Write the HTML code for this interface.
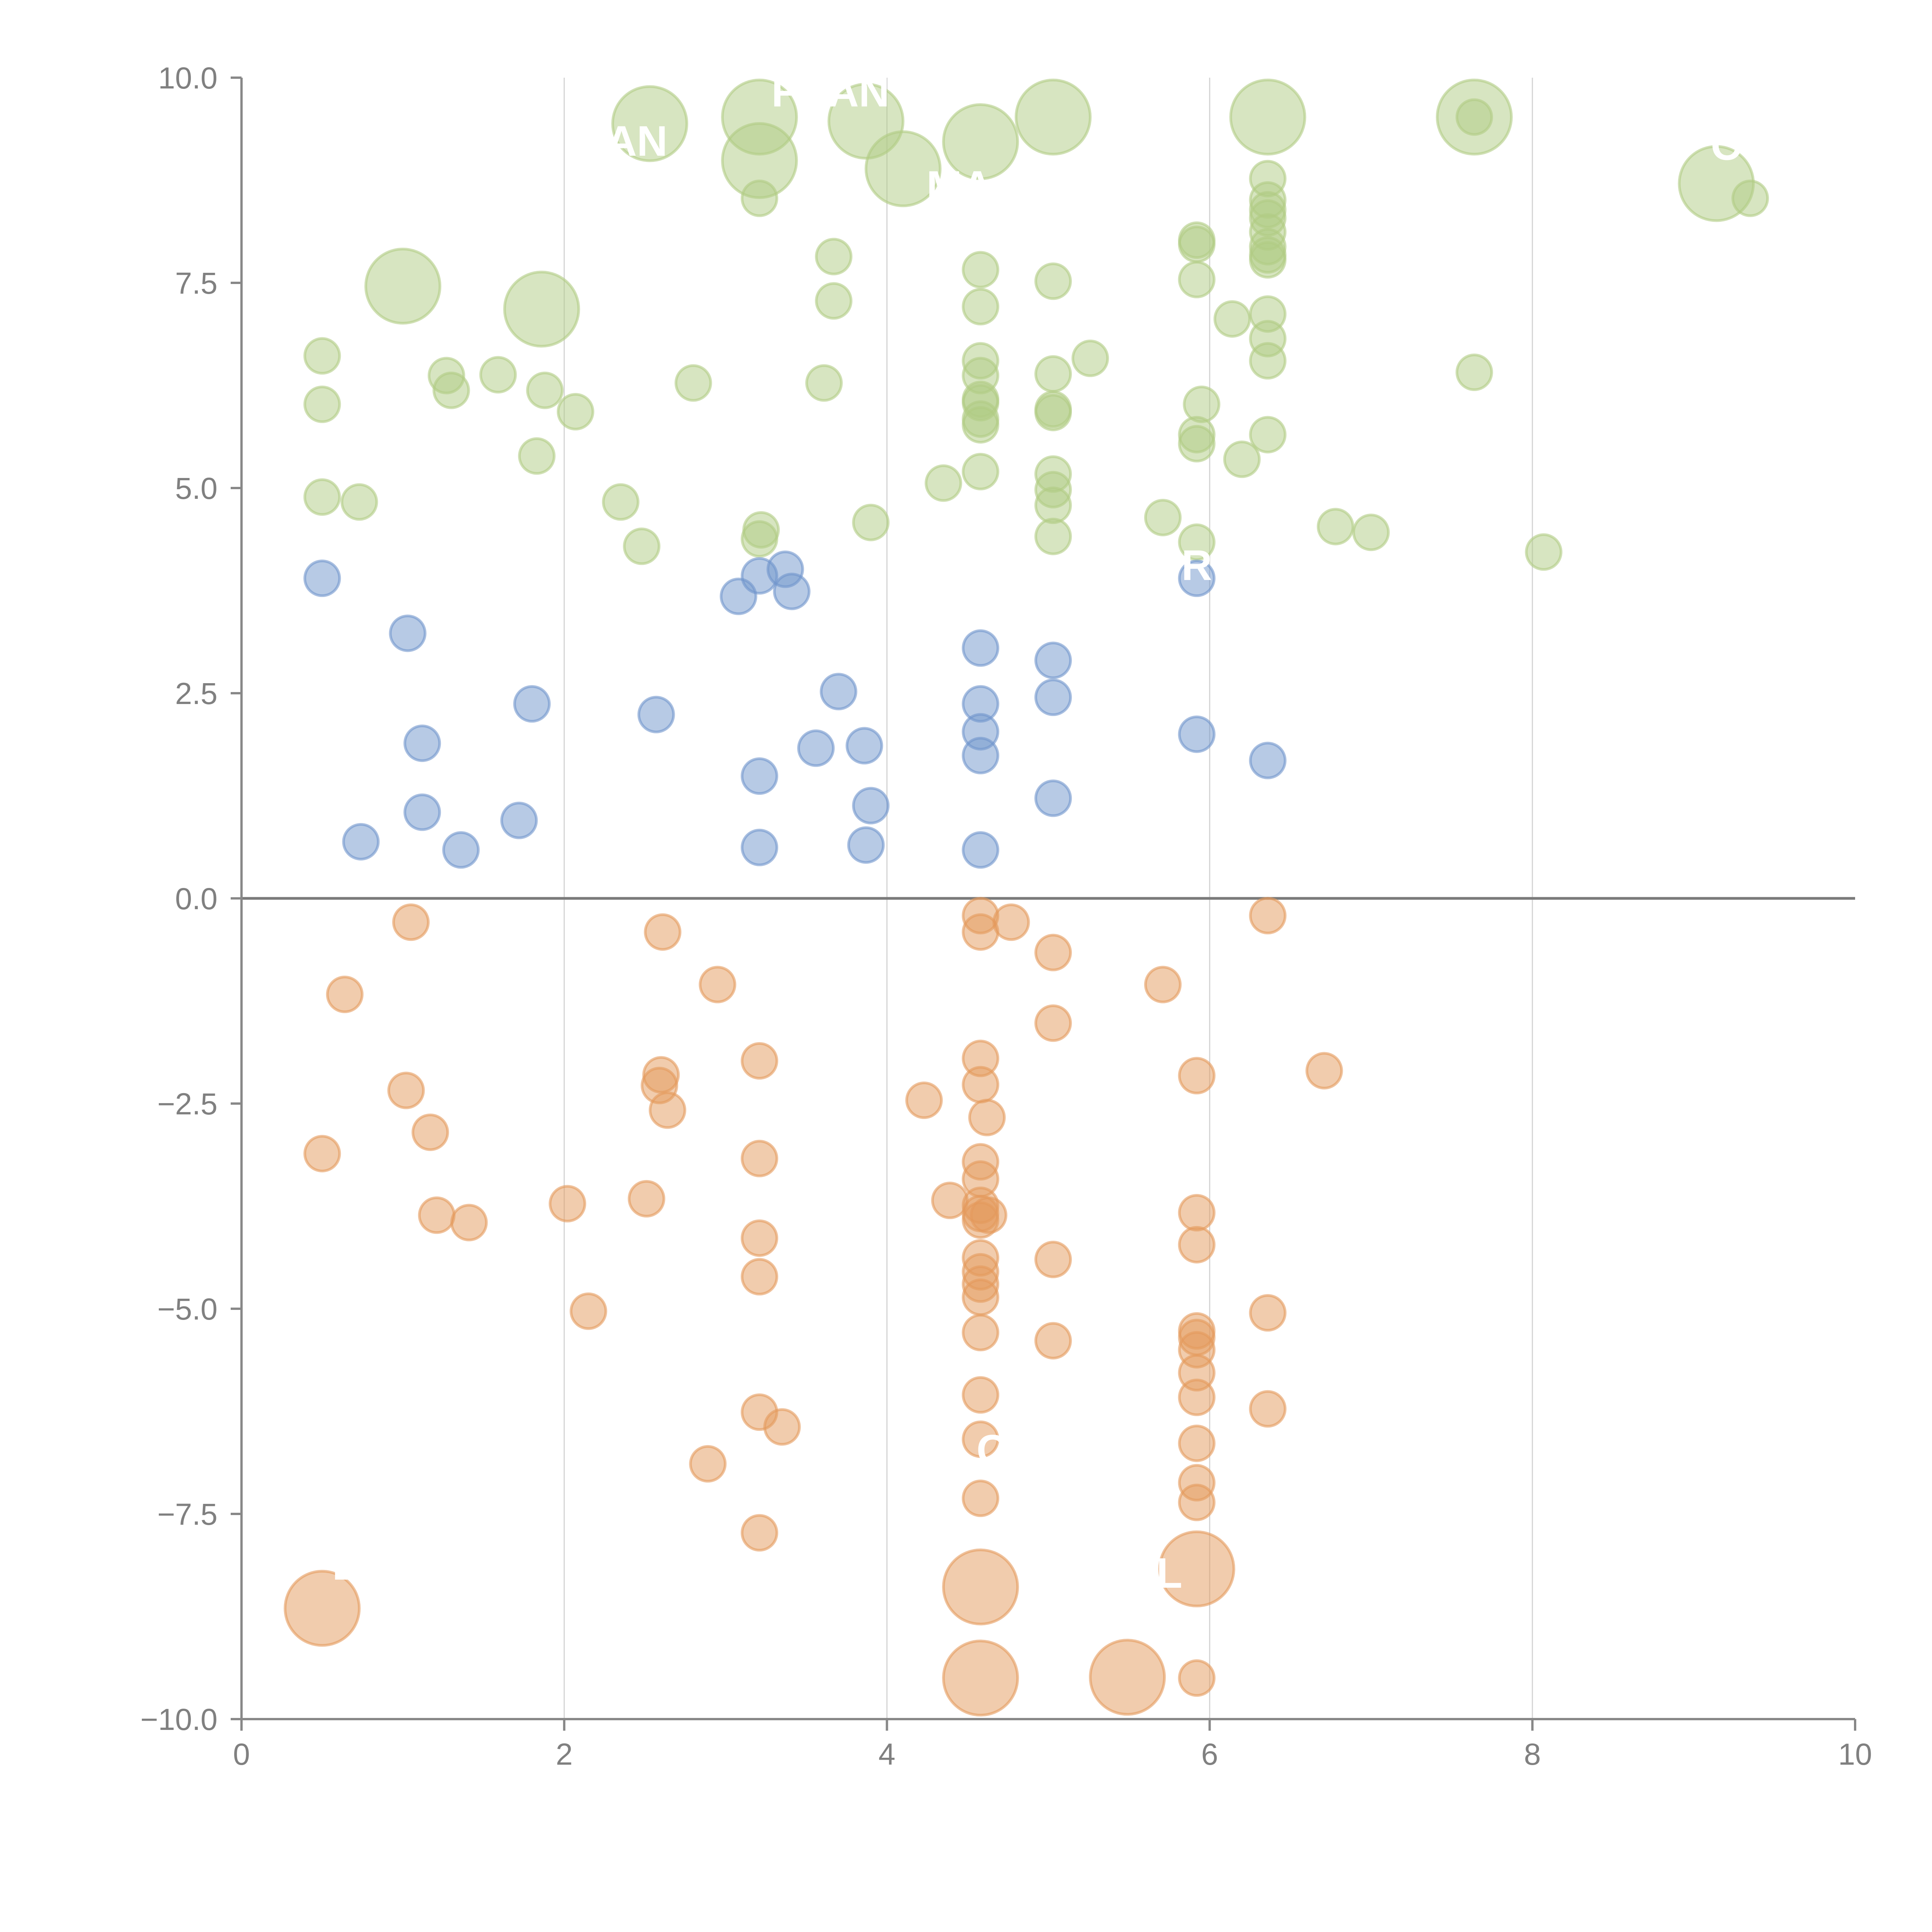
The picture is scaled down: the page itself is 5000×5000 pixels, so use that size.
<!DOCTYPE html>
<html><head><meta charset="utf-8"><style>
html,body{margin:0;padding:0;background:#fff;}
svg{display:block;font-family:"Liberation Sans",sans-serif;}
</style></head><body>
<svg id="chart" width="5000" height="5000" viewBox="0 0 5000 5000" xmlns="http://www.w3.org/2000/svg">
<rect width="5000" height="5000" fill="#fff"/>
<g id="grid"></g>
<g id="zero"></g>
<g id="axes"></g>
<g id="marks"></g>
<g id="labels"></g>
</svg>
<script>
const xTicks=[0,2,4,6,8,10];
const yTicks=[-10,-7.5,-5,-2.5,0,2.5,5,7.5,10];
const yTickLabels=["\u221210.0","\u22127.5","\u22125.0","\u22122.5","0.0","2.5","5.0","7.5","10.0"];
const xTickLabels=["0","2","4","6","8","10"];

const greenX=[2.53,3.21,3.21,3.87,4.10,4.58,5.03,6.36,7.64,9.14,1.0,1.86,
7.64,9.35,3.21,6.36,6.36,6.36,6.36,6.36,6.36,6.36,6.36,5.92,5.92,3.67,4.58,5.03,5.92,3.67,4.58,6.14,6.36,6.36,5.26,6.36,0.5,4.58,7.64,1.59,1.27,5.03,4.58,2.80,3.61,1.30,1.88,0.5,5.95,2.07,4.58,4.58,5.03,5.03,4.58,4.58,5.92,5.92,6.36,6.20,1.83,4.58,4.35,5.03,5.03,0.5,0.73,2.35,5.03,5.71,3.90,3.22,3.21,6.78,7.0,5.03,2.48,5.92,8.07];
const greenY=[9.44,9.52,8.99,9.47,8.89,9.22,9.52,9.52,9.52,8.71,7.46,7.18,
9.52,8.53,8.53,8.77,8.51,8.39,8.29,8.12,7.94,7.84,7.78,8.02,7.97,7.82,7.66,7.52,7.54,7.28,7.21,7.06,7.12,6.82,6.58,6.55,6.61,6.55,6.41,6.38,6.37,6.39,6.37,6.28,6.28,6.19,6.19,6.02,6.02,5.93,6.08,6.04,5.96,5.92,5.84,5.77,5.65,5.54,5.65,5.35,5.39,5.20,5.06,5.17,4.98,4.89,4.83,4.83,4.79,4.64,4.58,4.49,4.38,4.53,4.46,4.41,4.29,4.34,4.22];
const greenS=[2,2,2,2,2,2,2,2,2,2,2,2,
1,1,1,1,1,1,1,1,1,1,1,1,1,1,1,1,1,1,1,1,1,1,1,1,1,1,1,1,1,1,1,1,1,1,1,1,1,1,1,1,1,1,1,1,1,1,1,1,1,1,1,1,1,1,1,1,1,1,1,1,1,1,1,1,1];

const blueX=[0.5,5.92,3.21,3.37,3.41,3.08,1.03,4.58,5.03,3.70,1.80,4.58,5.03,2.57,4.58,5.92,1.12,3.86,3.56,4.58,6.36,3.21,5.03,3.90,1.12,1.72,0.74,1.36,3.21,3.87,4.58];
const blueY=[3.90,3.90,3.93,4.01,3.74,3.68,3.23,3.05,2.90,2.52,2.37,2.37,2.45,2.24,2.03,2.0,1.89,1.86,1.83,1.74,1.68,1.49,1.22,1.13,1.05,0.95,0.69,0.59,0.62,0.65,0.59];

const orangeX=[1.05,2.61,4.58,4.58,4.77,6.36,5.03,0.64,2.95,5.71,5.03,3.21,4.58,6.71,5.92,2.60,2.59,4.58,1.02,2.64,4.23,4.62,1.17,0.5,3.21,4.58,4.58,2.02,2.51,4.39,4.58,4.58,4.58,4.63,1.21,1.41,5.92,3.21,5.92,5.03,4.58,4.58,4.58,4.58,3.21,2.15,6.36,5.92,5.92,4.58,5.03,5.92,5.92,4.58,5.92,6.36,3.21,3.35,4.58,5.92,2.89,5.92,5.92,4.58,3.21,
0.5,4.58,5.92,4.58,5.49,5.92];
const orangeY=[-0.29,-0.41,-0.21,-0.41,-0.29,-0.21,-0.66,-1.17,-1.05,-1.05,-1.52,-1.98,-1.95,-2.10,-2.16,-2.15,-2.28,-2.27,-2.34,-2.58,-2.46,-2.67,-2.85,-3.11,-3.17,-3.21,-3.42,-3.72,-3.66,-3.68,-3.74,-3.84,-3.92,-3.86,-3.86,-3.95,-3.83,-4.14,-4.22,-4.40,-4.38,-4.55,-4.70,-4.86,-4.61,-5.03,-5.05,-5.27,-5.35,-5.29,-5.39,-5.50,-5.78,-6.05,-6.08,-6.22,-6.26,-6.44,-6.59,-6.64,-6.89,-7.12,-7.36,-7.31,-7.73,
-8.65,-8.39,-8.17,-9.50,-9.49,-9.50];
const orangeS=[1,1,1,1,1,1,1,1,1,1,1,1,1,1,1,1,1,1,1,1,1,1,1,1,1,1,1,1,1,1,1,1,1,1,1,1,1,1,1,1,1,1,1,1,1,1,1,1,1,1,1,1,1,1,1,1,1,1,1,1,1,1,1,1,1,
2,2,2,2,2,1];

const labelText=["AN","FRAN","MA","I","C","R","E","C","L","N"];
const labelX=[2.45,3.65,4.45,6.65,9.2,5.92,0.65,4.65,5.75,4.1];
const labelY=[9.05,9.65,8.5,9.5,9.0,3.88,-8.3,-6.9,-8.4,-9.4];

const NS="http://www.w3.org/2000/svg";
const X0=625, XU=417.6, Y0=2325, YU=212.4;
function sx(v){return X0+v*XU;}
function sy(v){return Y0-v*YU;}
function rad(s){return s===2?96:45;}
function mk(tag,attrs,parent){const e=document.createElementNS(NS,tag);for(const k in attrs)e.setAttribute(k,attrs[k]);parent.appendChild(e);return e;}

const grid=document.getElementById('grid');
xTicks.forEach((t,i)=>{
  if(t===0||t===10) return;
  const l=mk('line',{x1:sx(t),x2:sx(t),y1:sy(10),y2:sy(-10),stroke:'#d4d4d4','stroke-width':3},grid);
  
  
});
const zero=document.getElementById('zero');
const zl=mk('line',{x1:sx(0),x2:sx(10),y1:sy(0),y2:sy(0),stroke:'#7a7a7a','stroke-width':7},zero);



const axes=document.getElementById('axes');
const ya=mk('line',{x1:sx(0),x2:sx(0),y1:sy(10),y2:sy(-10),stroke:'#888','stroke-width':6},axes);


const xa=mk('line',{x1:sx(0)-28,x2:sx(10),y1:sy(-10),y2:sy(-10),stroke:'#888','stroke-width':6},axes);


yTicks.forEach((t,i)=>{
  const tk=mk('line',{x1:sx(0)-28,x2:sx(0),y1:sy(t),y2:sy(t),stroke:'#888','stroke-width':6},axes);
  
  
  const tx=mk('text',{x:sx(0)-62,y:sy(t)+28,'text-anchor':'end','font-size':79,fill:'#808080'},axes);
  tx.textContent=yTickLabels[i];
  
  
});
xTicks.forEach((t,i)=>{
  const tk=mk('line',{x1:sx(t),x2:sx(t),y1:sy(-10),y2:sy(-10)+30,stroke:'#888','stroke-width':6},axes);
  
  
  const tx=mk('text',{x:sx(t),y:sy(-10)+118,'text-anchor':'middle','font-size':79,fill:'#808080'},axes);
  tx.textContent=xTickLabels[i];
  
  
});

const marks=document.getElementById('marks');
function series(xs,ys,ss,col,name){
  xs.forEach((x,i)=>{
    const c=mk('circle',{cx:sx(x),cy:sy(ys[i]),r:rad(ss?ss[i]:1),fill:col,'fill-opacity':0.5,stroke:col,'stroke-opacity':0.6,'stroke-width':7},marks);
    
    
  });
}
series(greenX,greenY,greenS,'#b0cc84','bubble-positive-high');
series(blueX,blueY,null,'#6f95cc','bubble-positive-low');
series(orangeX,orangeY,orangeS,'#e49a5c','bubble-negative');

const labels=document.getElementById('labels');
labelText.forEach((t,i)=>{
  const tx=mk('text',{x:sx(labelX[i]),y:sy(labelY[i]),'text-anchor':'middle','font-size':110,'font-weight':'bold',fill:'#fff'},labels);
  tx.textContent=t;
  
  
});
</script>
</body></html>
